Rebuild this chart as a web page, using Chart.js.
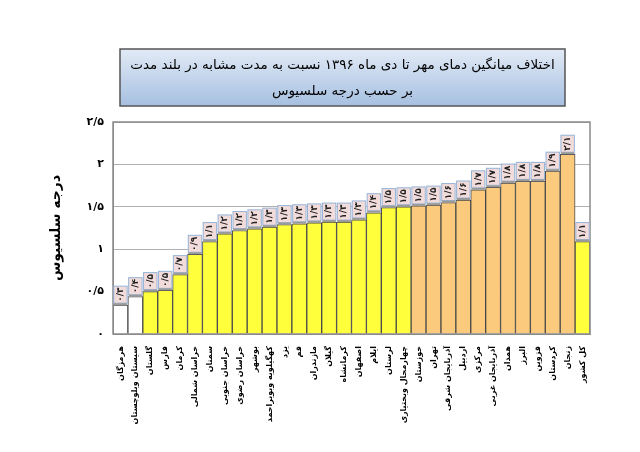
<!DOCTYPE html>
<html>
<head>
<meta charset="utf-8">
<script src="https://cdn.jsdelivr.net/npm/chart.js@4.4.0/dist/chart.umd.min.js"></script>
<style>
    html, body { margin: 0; padding: 0; background: #fff; }
    #wrap { width: 640px; height: 452px; }
</style>
</head>
<body>
<div id="wrap"><canvas id="bar-chart"></canvas></div>
<script>
// provinces, left to right as in the picture
var provinces = [
    "هرمزگان", "سیستان وبلوچستان", "گلستان", "فارس", "کرمان", "خراسان شمالی",
    "سمنان", "خراسان جنوبی", "خراسان رضوی", "بوشهر", "کهگیلویه وبویراحمد", "یزد",
    "قم", "مازندران", "گیلان", "کرمانشاه", "اصفهان", "ایلام", "لرستان",
    "چهارمحال وبختیاری", "خوزستان", "تهران", "آذربایجان شرقی", "اردبیل", "مرکزی",
    "آذربایجان غربی", "همدان", "البرز", "قزوین", "کردستان", "زنجان", "کل کشور"
];
// temperature anomaly, deg C
var tempDiff = [
    0.34, 0.44, 0.50, 0.515, 0.70, 0.94, 1.09, 1.18, 1.22, 1.24, 1.26, 1.29,
    1.30, 1.31, 1.32, 1.32, 1.345, 1.43, 1.49, 1.50, 1.51, 1.52, 1.55, 1.58,
    1.70, 1.73, 1.78, 1.80, 1.80, 1.92, 2.12, 1.09
];
// colour class of each bar: 0 = white, 1 = yellow, 2 = orange
var barClass = [
    0, 0, 1, 1, 1, 1, 1, 1, 1, 1, 1, 1, 1, 1, 1, 1, 1, 1, 1, 1,
    2, 2, 2, 2, 2, 2, 2, 2, 2, 2, 2, 1
];
var yTicks = [0, 0.5, 1, 1.5, 2, 2.5];
var titleLines = [
    "اختلاف میانگین دمای مهر تا دی ماه ۱۳۹۶ نسبت به مدت مشابه در بلند مدت",
    "بر حسب درجه سلسیوس"
];
var yTitle = "درجه سلسیوس";

var classColors = ["#ffffff", "#ffff3c", "#fbca7c"];
var faFont = "DejaVu Sans";

function toFa(v) {
    var s = String(v).replace(".", "/");
    return s.replace(/[0-9]/g, function (d) { return "۰۱۲۳۴۵۶۷۸۹"[+d]; });
}

var decorPlugin = {
    id: "decor",
    beforeDraw: function (chart) {
        var c = chart.ctx;
        // title box
        var bx = 120, by = 49, bw = 445, bh = 57;
        var g = c.createLinearGradient(0, by, 0, by + bh);
        g.addColorStop(0, "#e2eaf6");
        g.addColorStop(1, "#a6c0e1");
        c.save();
        c.fillStyle = g;
        c.fillRect(bx, by, bw, bh);
        c.strokeStyle = "#555";
        c.lineWidth = 1.5;
        c.strokeRect(bx, by, bw, bh);
        c.fillStyle = "#000";
        c.textAlign = "center";
        c.textBaseline = "middle";
        c.font = "13.5px '" + faFont + "'";
        c.fillText(titleLines[0], bx + bw / 2, by + 16);
        c.fillText(titleLines[1], bx + bw / 2, by + 42);
        c.restore();
    },
    afterDatasetsDraw: function (chart) {
        var c = chart.ctx;
        var a = chart.chartArea;
        c.save();
        c.strokeStyle = "#8a8a8a";
        c.lineWidth = 1.5;
        c.strokeRect(a.left, a.top, a.right - a.left, a.bottom - a.top);
        var meta = chart.getDatasetMeta(0);
        meta.data.forEach(function (bar, i) {
            var w = bar.width - 1.5;
            var h = 17;
            var x0 = bar.x - w / 2;
            var y0 = bar.y - h - 2;
            c.fillStyle = "#f2dcdb";
            c.fillRect(x0, y0, w, h);
            c.strokeStyle = "#95b3d7";
            c.lineWidth = 1;
            c.strokeRect(x0, y0, w, h);
            c.strokeStyle = "#9a9a9a";
            c.lineWidth = 2;
            c.beginPath();
            c.moveTo(x0, bar.y - 1);
            c.lineTo(x0 + w, bar.y - 1);
            c.stroke();
            c.save();
            c.translate(bar.x, y0 + h / 2);
            c.rotate(-Math.PI / 2);
            c.fillStyle = "#222";
            c.font = "bold 9px '" + faFont + "'";
            c.textAlign = "center";
            c.textBaseline = "middle";
            c.fillText(toFa(tempDiff[i].toFixed(1)), 0, 0);
            c.restore();
        });
        c.restore();
    }
};

var ctx = document.getElementById("bar-chart");

new Chart(ctx, {
    type: "bar",
    data: {
        labels: provinces,
        datasets: [{
            data: tempDiff,
            backgroundColor: barClass.map(function (k) { return classColors[k]; }),
            borderColor: "#4a4a4a",
            borderWidth: 1,
            barPercentage: 1,
            categoryPercentage: 1
        }]
    },
    options: {
        responsive: true,
        maintainAspectRatio: false,
        animation: false,
        layout: {
            padding: { left: 48, right: 50, top: 122, bottom: 0 }
        },
        plugins: {
            legend: { display: false },
            title: { display: false },
            tooltip: { enabled: false }
        },
        scales: {
            x: {
                grid: { display: false },
                border: { color: "#8a8a8a" },
                ticks: {
                    autoSkip: false,
                    maxRotation: 90,
                    minRotation: 90,
                    padding: 4,
                    color: "#000",
                    font: { family: faFont, size: 8, weight: "bold" }
                },
                afterFit: function (s) { s.height = 118; }
            },
            y: {
                min: 0,
                max: 2.5,
                afterBuildTicks: function (s) {
                    s.ticks = yTicks.map(function (v) { return { value: v }; });
                },
                grid: { color: "#b0b0b0", drawTicks: false },
                border: { color: "#8a8a8a" },
                ticks: {
                    padding: 9,
                    color: "#000",
                    font: { family: faFont, size: 11, weight: "bold" },
                    callback: function (v) { return toFa(v); }
                },
                title: {
                    display: true,
                    text: yTitle,
                    color: "#000",
                    padding: { top: 0, bottom: 8 },
                    font: { family: faFont, size: 14, weight: "bold" }
                },
                afterFit: function (s) { s.width = 65; }
            }
        }
    },
    plugins: [decorPlugin]
});
</script>
</body>
</html>
